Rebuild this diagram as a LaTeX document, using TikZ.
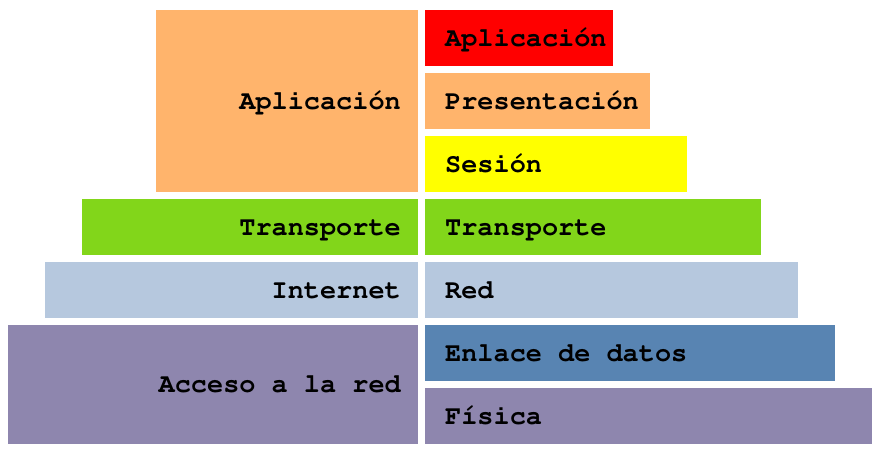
\documentclass[tikz,border=0pt]{standalone}
\usepackage[T1]{fontenc}
\usetikzlibrary{calc}
\definecolor{cApp}{RGB}{255,180,108}
\definecolor{cRed}{RGB}{255,0,0}
\definecolor{cSes}{RGB}{255,255,0}
\definecolor{cTra}{RGB}{130,214,26}
\definecolor{cNet}{RGB}{182,200,222}
\definecolor{cEnl}{RGB}{88,132,178}
\definecolor{cFis}{RGB}{142,134,174}
\newcommand{\layerfont}{\fontencoding{T1}\fontfamily{pcr}\fontseries{b}\fontsize{26.9}{30}\selectfont}
\tikzset{
  layer/.style={rectangle, inner sep=0pt, outer sep=0pt, anchor=north west, draw=none},
  lbl/.style={inner sep=0pt, font=\layerfont, text=black}
}
\begin{document}
\begin{tikzpicture}[x=1pt,y=-1pt]
\useasboundingbox (0,0) rectangle (881,453);
% TCP/IP model (left)
\node[layer, fill=cApp, minimum width=262pt, minimum height=182pt] (tApp) at (156,10) {};
\node[layer, fill=cTra, minimum width=336pt, minimum height=56pt] (tTra) at (82,199) {};
\node[layer, fill=cNet, minimum width=373pt, minimum height=56pt] (tNet) at (45,262) {};
\node[layer, fill=cFis, minimum width=410pt, minimum height=119pt] (tAcc) at (8,325) {};
% OSI model (right)
\node[layer, fill=cRed, minimum width=188pt, minimum height=56pt] (oApp) at (425,10) {};
\node[layer, fill=cApp, minimum width=225pt, minimum height=56pt] (oPre) at (425,73) {};
\node[layer, fill=cSes, minimum width=262pt, minimum height=56pt] (oSes) at (425,136) {};
\node[layer, fill=cTra, minimum width=336pt, minimum height=56pt] (oTra) at (425,199) {};
\node[layer, fill=cNet, minimum width=373pt, minimum height=56pt] (oRed) at (425,262) {};
\node[layer, fill=cEnl, minimum width=410pt, minimum height=56pt] (oEnl) at (425,325) {};
\node[layer, fill=cFis, minimum width=447pt, minimum height=56pt] (oFis) at (425,388) {};
% labels
\node[lbl, anchor=base east] (ltApp) at ($(tApp.east)+(-17,8)$) {Aplicación};
\node[lbl, anchor=base east] (ltTra) at ($(tTra.east)+(-17,8)$) {Transporte};
\node[lbl, anchor=base east] (ltNet) at ($(tNet.east)+(-17,8)$) {Internet};
\node[lbl, anchor=base east] (ltAcc) at ($(tAcc.east)+(-17,8)$) {Acceso a la red};
\node[lbl, anchor=base west] (loApp) at ($(oApp.west)+(20,8)$) {Aplicación};
\node[lbl, anchor=base west] (loPre) at ($(oPre.west)+(20,8)$) {Presentación};
\node[lbl, anchor=base west] (loSes) at ($(oSes.west)+(20,8)$) {Sesión};
\node[lbl, anchor=base west] (loTra) at ($(oTra.west)+(20,8)$) {Transporte};
\node[lbl, anchor=base west] (loRed) at ($(oRed.west)+(20,8)$) {Red};
\node[lbl, anchor=base west] (loEnl) at ($(oEnl.west)+(20,8)$) {Enlace de datos};
\node[lbl, anchor=base west] (loFis) at ($(oFis.west)+(20,8)$) {Física};
\end{tikzpicture}
\end{document}
